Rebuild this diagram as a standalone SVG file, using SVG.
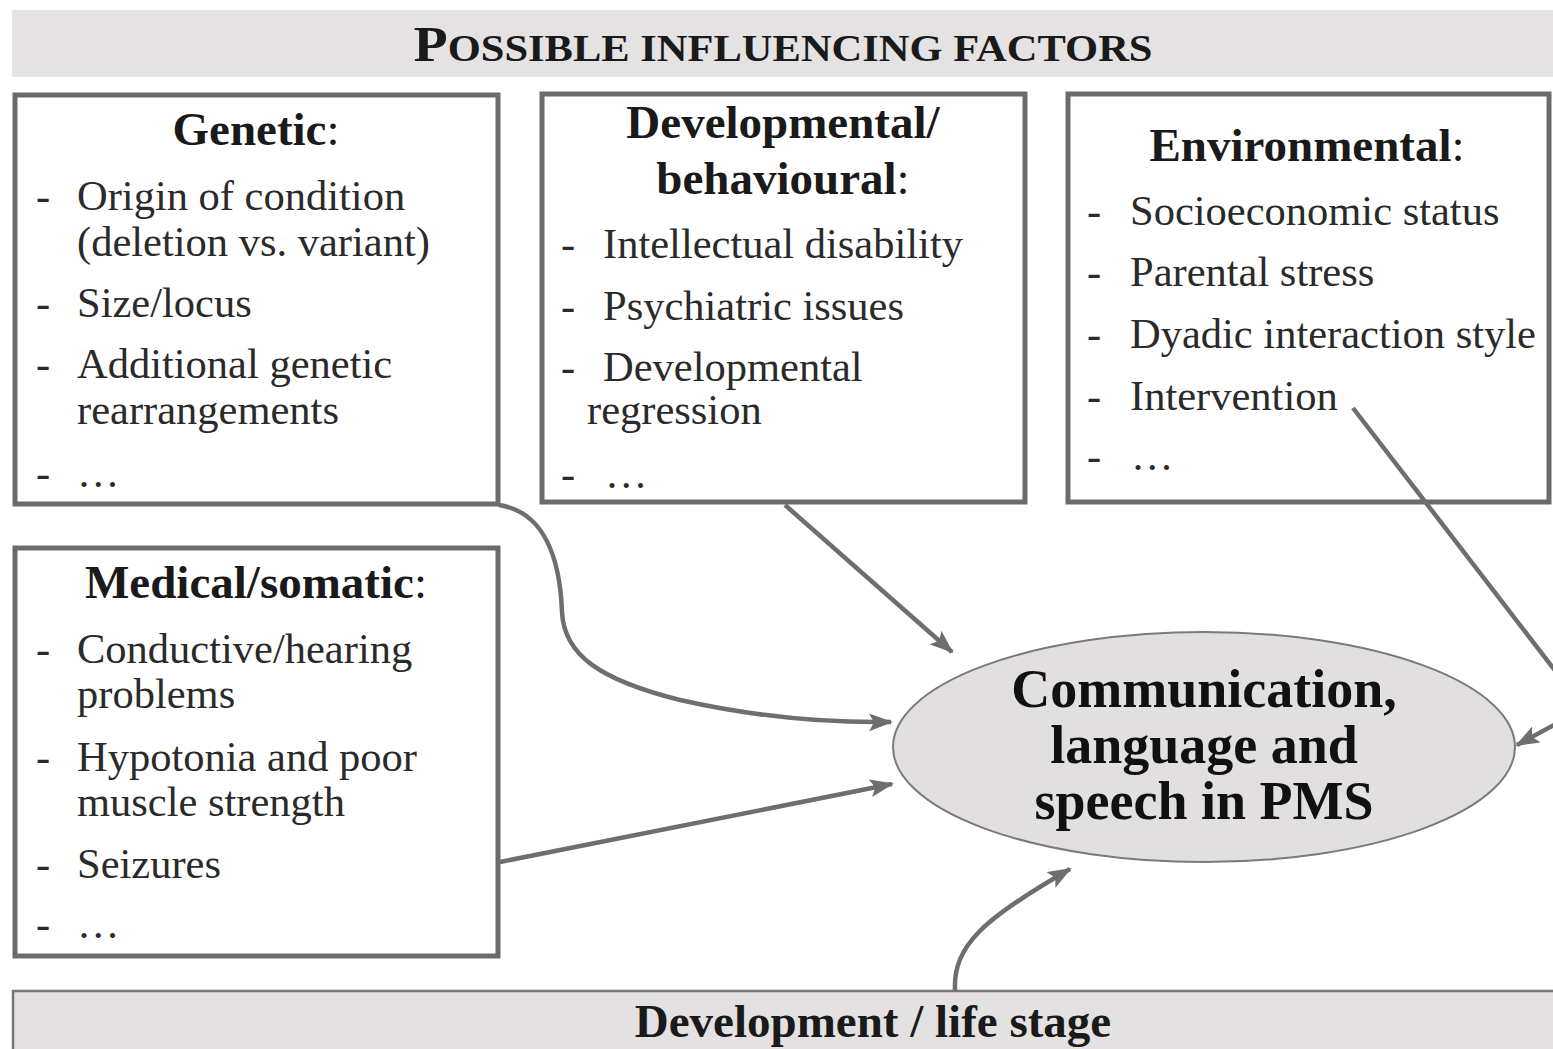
<svg xmlns="http://www.w3.org/2000/svg" width="1553" height="1049" viewBox="0 0 1553 1049">
<style>
.box{fill:#ffffff;stroke:#6b6b6b;stroke-width:5}
.band{fill:#e5e2e3}
.hd{font-family:"Liberation Serif",serif;font-weight:bold;font-size:47px;fill:#1a1a1a;text-anchor:middle}
.it{font-family:"Liberation Serif",serif;font-size:42.5px;fill:#2a2a2a}
.conn{fill:none;stroke:#6e6e6e;stroke-width:4.5}
.ctr{font-family:"Liberation Serif",serif;font-weight:bold;font-size:54px;fill:#111;text-anchor:middle}
</style>
<defs>
<marker id="ah" markerUnits="userSpaceOnUse" markerWidth="26" markerHeight="20" refX="22" refY="9" orient="auto">
<path d="M0,0 L24,9 L0,18 L5,9 z" fill="#6e6e6e"/>
</marker>
</defs>

<g id="title-banner">
<rect class="band" x="12" y="10" width="1545" height="67"/>
<text x="783" y="61" font-family="Liberation Serif, serif" font-weight="bold" fill="#1a1a1a" text-anchor="middle" textLength="739" lengthAdjust="spacingAndGlyphs"><tspan font-size="50">P</tspan><tspan font-size="38">OSSIBLE INFLUENCING FACTORS</tspan></text>
</g>

<g id="genetic">
<rect class="box" x="15" y="95" width="483" height="409"/>
<text class="hd" x="256" y="145">Genetic<tspan font-weight="normal">:</tspan></text>
<text class="it" x="36" y="210">-</text><text class="it" x="77" y="210">Origin of condition</text>
<text class="it" x="77" y="256">(deletion vs. variant)</text>
<text class="it" x="36" y="317">-</text><text class="it" x="77" y="317">Size/locus</text>
<text class="it" x="36" y="378">-</text><text class="it" x="77" y="378">Additional genetic</text>
<text class="it" x="77" y="424">rearrangements</text>
<text class="it" x="36" y="487">-</text><text class="it" x="77" y="487">…</text>
</g>

<g id="developmental">
<rect class="box" x="542" y="94" width="483" height="408"/>
<text class="hd" x="783" y="138">Developmental/</text>
<text class="hd" x="783" y="194">behavioural<tspan font-weight="normal">:</tspan></text>
<text class="it" x="561" y="258">-</text><text class="it" x="603" y="258">Intellectual disability</text>
<text class="it" x="561" y="320">-</text><text class="it" x="603" y="320">Psychiatric issues</text>
<text class="it" x="561" y="381">-</text><text class="it" x="603" y="381">Developmental</text>
<text class="it" x="587" y="424">regression</text>
<text class="it" x="561" y="488">-</text><text class="it" x="605" y="488">…</text>
</g>

<g id="environmental">
<rect class="box" x="1068" y="94" width="481" height="408"/>
<text class="hd" x="1307" y="161">Environmental<tspan font-weight="normal">:</tspan></text>
<text class="it" x="1087" y="225">-</text><text class="it" x="1130" y="225">Socioeconomic status</text>
<text class="it" x="1087" y="286">-</text><text class="it" x="1130" y="286">Parental stress</text>
<text class="it" x="1087" y="348">-</text><text class="it" x="1130" y="348">Dyadic interaction style</text>
<text class="it" x="1087" y="410">-</text><text class="it" x="1130" y="410">Intervention</text>
<text class="it" x="1087" y="470">-</text><text class="it" x="1131" y="470">…</text>
</g>

<g id="medical">
<rect class="box" x="15" y="548" width="483" height="408"/>
<text class="hd" x="256" y="598">Medical/somatic<tspan font-weight="normal">:</tspan></text>
<text class="it" x="36" y="663">-</text><text class="it" x="77" y="663">Conductive/hearing</text>
<text class="it" x="77" y="708">problems</text>
<text class="it" x="36" y="771">-</text><text class="it" x="77" y="771">Hypotonia and poor</text>
<text class="it" x="77" y="816">muscle strength</text>
<text class="it" x="36" y="878">-</text><text class="it" x="77" y="878">Seizures</text>
<text class="it" x="36" y="938">-</text><text class="it" x="77" y="938">…</text>
</g>

<g id="life-stage">
<rect x="13" y="991" width="1560" height="70" fill="#e4e1e2" stroke="#777" stroke-width="2.5"/>
<text x="873" y="1037" font-family="Liberation Serif, serif" font-weight="bold" font-size="47" fill="#1a1a1a" text-anchor="middle">Development / life stage</text>
</g>

<g id="outcome">
<ellipse cx="1204" cy="747" rx="311" ry="115" fill="#e2dfe0" stroke="#7a7a7a" stroke-width="2"/>
<text class="ctr" x="1204" y="707">Communication,</text>
<text class="ctr" x="1204" y="763">language and</text>
<text class="ctr" x="1204" y="819">speech in PMS</text>
</g>

<g id="connectors">
<path class="conn" marker-end="url(#ah)" d="M499,505 C545,512 560,560 562,612 C564,655 600,680 680,700 C760,718 830,723 891,722"/>
<path class="conn" marker-end="url(#ah)" d="M785,505 L952,652"/>
<path class="conn" marker-end="url(#ah)" d="M500,862 L892,784"/>
<path class="conn" marker-end="url(#ah)" d="M1353,408 L1570,690 Q1580,706 1565,719 L1517,745"/>
<path class="conn" marker-end="url(#ah)" d="M955,990 C953,945 985,918 1070,869"/>
</g>
</svg>
